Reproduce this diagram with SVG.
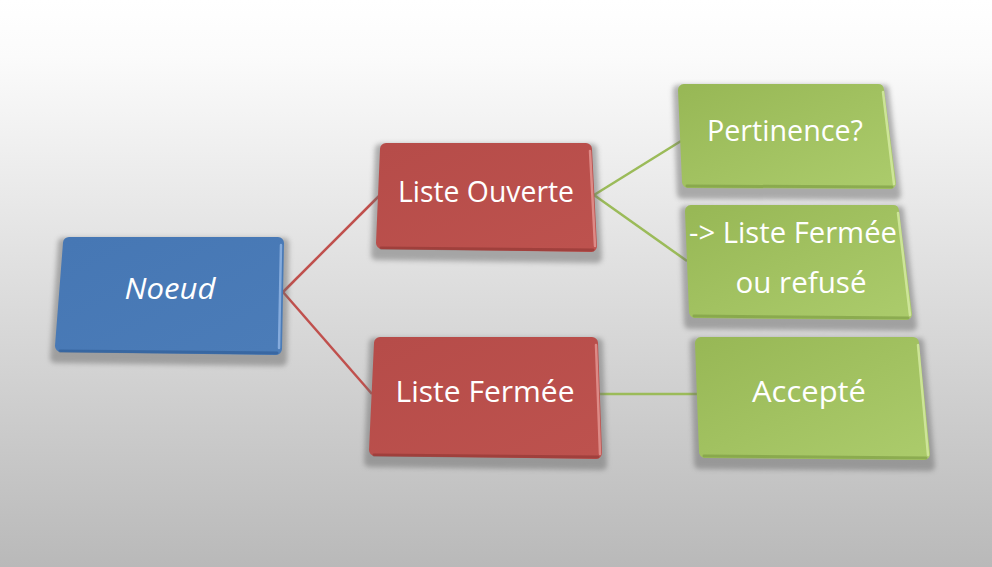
<svg xmlns="http://www.w3.org/2000/svg" width="992" height="567" viewBox="0 0 992 567">
<defs>
<linearGradient id="bg" x1="0" y1="0" x2="0" y2="1">
<stop offset="0" stop-color="#ffffff"/>
<stop offset="0.1" stop-color="#fbfbfb"/>
<stop offset="1" stop-color="#b9b9b9"/>
</linearGradient>
<linearGradient id="gBlue" x1="0" y1="0" x2="1" y2="1">
<stop offset="0" stop-color="#4677b4"/>
<stop offset="1" stop-color="#4b7cb8"/>
</linearGradient>
<linearGradient id="gRed" x1="0" y1="0" x2="1" y2="1">
<stop offset="0" stop-color="#b64c49"/>
<stop offset="1" stop-color="#bd524e"/>
</linearGradient>
<linearGradient id="gGreen" x1="0" y1="0" x2="1" y2="1">
<stop offset="0" stop-color="#98b856"/>
<stop offset="1" stop-color="#abcb6b"/>
</linearGradient>
<filter id="sh" x="-10%" y="-10%" width="120%" height="130%">
<feGaussianBlur stdDeviation="2.5"/>
</filter>
</defs>
<style>
.shadow{fill:#6a6a6a;opacity:0.5;stroke:#6a6a6a;stroke-width:10;stroke-linejoin:round;filter:url(#sh)}
.blue{fill:url(#gBlue);stroke:url(#gBlue);stroke-width:12;stroke-linejoin:round}
.red{fill:url(#gRed);stroke:url(#gRed);stroke-width:12;stroke-linejoin:round}
.green{fill:url(#gGreen);stroke:url(#gGreen);stroke-width:12;stroke-linejoin:round}
.hlB{fill:none;stroke:#8fb4e3;stroke-width:2.5;stroke-linecap:round;opacity:0.85}
.hlR{fill:none;stroke:#e39490;stroke-width:2.5;stroke-linecap:round;opacity:0.85}
.hlG{fill:none;stroke:#d3eaa0;stroke-width:2.5;stroke-linecap:round;opacity:0.85}
.dkB{fill:none;stroke:#2d5a93;stroke-width:3;stroke-linecap:round;opacity:0.6}
.dkR{fill:none;stroke:#8e3532;stroke-width:3;stroke-linecap:round;opacity:0.6}
.dkG{fill:none;stroke:#789840;stroke-width:3;stroke-linecap:round;opacity:0.6}
.t{fill:#ffffff;font-family:"Open Sans","Noto Sans","Liberation Sans",sans-serif;font-size:30px;text-anchor:middle}
.cr{stroke:#c0504d;stroke-width:2.5;fill:none}
.cg{stroke:#9bbb59;stroke-width:2.5;fill:none}
</style>
<rect x="0" y="0" width="992" height="567" fill="url(#bg)"/>
<g id="connectors">
<path class="cr" d="M283,292 L379,196"/>
<path class="cr" d="M283,292 L372,394"/>
<path class="cg" d="M594,195 L681,141"/>
<path class="cg" d="M594,195 L687,261"/>
<path class="cg" d="M599,394 L698,394"/>
</g>
<g id="noeud">
<polygon class="shadow" points="63,243 284,243 282,361 55,358"/>
<polygon class="blue" points="69,243 278,243 276,349 61,346"/>
<path class="hlB" d="M281,245 L279,348"/>
<path class="dkB" d="M60,351 L277,353"/>
<text class="t" x="170" y="299" font-style="italic" textLength="91" lengthAdjust="spacingAndGlyphs">Noeud</text>
</g>
<g id="liste-ouverte">
<polygon class="shadow" points="380,149 592,149 597,258 376,255"/>
<polygon class="red" points="386,149 586,149 591,246 382,243"/>
<path class="hlR" d="M590,151 L595,246"/>
<path class="dkR" d="M381,248 L593,250"/>
<text class="t" x="486" y="202" textLength="176" lengthAdjust="spacingAndGlyphs">Liste Ouverte</text>
</g>
<g id="liste-fermee">
<polygon class="shadow" points="374,343 598,343 602,465 369,462"/>
<polygon class="red" points="380,343 592,343 596,453 375,450"/>
<path class="hlR" d="M596,345 L600,454"/>
<path class="dkR" d="M374,455 L598,457"/>
<text class="t" x="485" y="402" textLength="179" lengthAdjust="spacingAndGlyphs">Liste Fermée</text>
</g>
<g id="pertinence">
<polygon class="shadow" points="678,90 884,90 896,195 682,194"/>
<polygon class="green" points="684,90 878,90 890,183 688,182"/>
<path class="hlG" d="M883,92 L894,184"/>
<path class="dkG" d="M687,186 L892,187"/>
<text class="t" x="785" y="141" textLength="156" lengthAdjust="spacingAndGlyphs">Pertinence?</text>
</g>
<g id="liste-fermee-refuse">
<polygon class="shadow" points="685,211 899,211 912,326 689,324"/>
<polygon class="green" points="691,211 893,211 906,314 695,312"/>
<path class="hlG" d="M898,213 L910,315"/>
<path class="dkG" d="M694,316 L908,318"/>
<text class="t" x="793" y="243" textLength="208" lengthAdjust="spacingAndGlyphs">-&gt; Liste Fermée</text>
<text class="t" x="801" y="293" textLength="131" lengthAdjust="spacingAndGlyphs">ou refusé</text>
</g>
<g id="accepte">
<polygon class="shadow" points="695,343 919,343 930,466 699,464"/>
<polygon class="green" points="701,343 913,343 924,454 705,452"/>
<path class="hlG" d="M918,345 L928,455"/>
<path class="dkG" d="M704,456 L926,458"/>
<text class="t" x="809" y="402" textLength="114" lengthAdjust="spacingAndGlyphs">Accepté</text>
</g>
</svg>
